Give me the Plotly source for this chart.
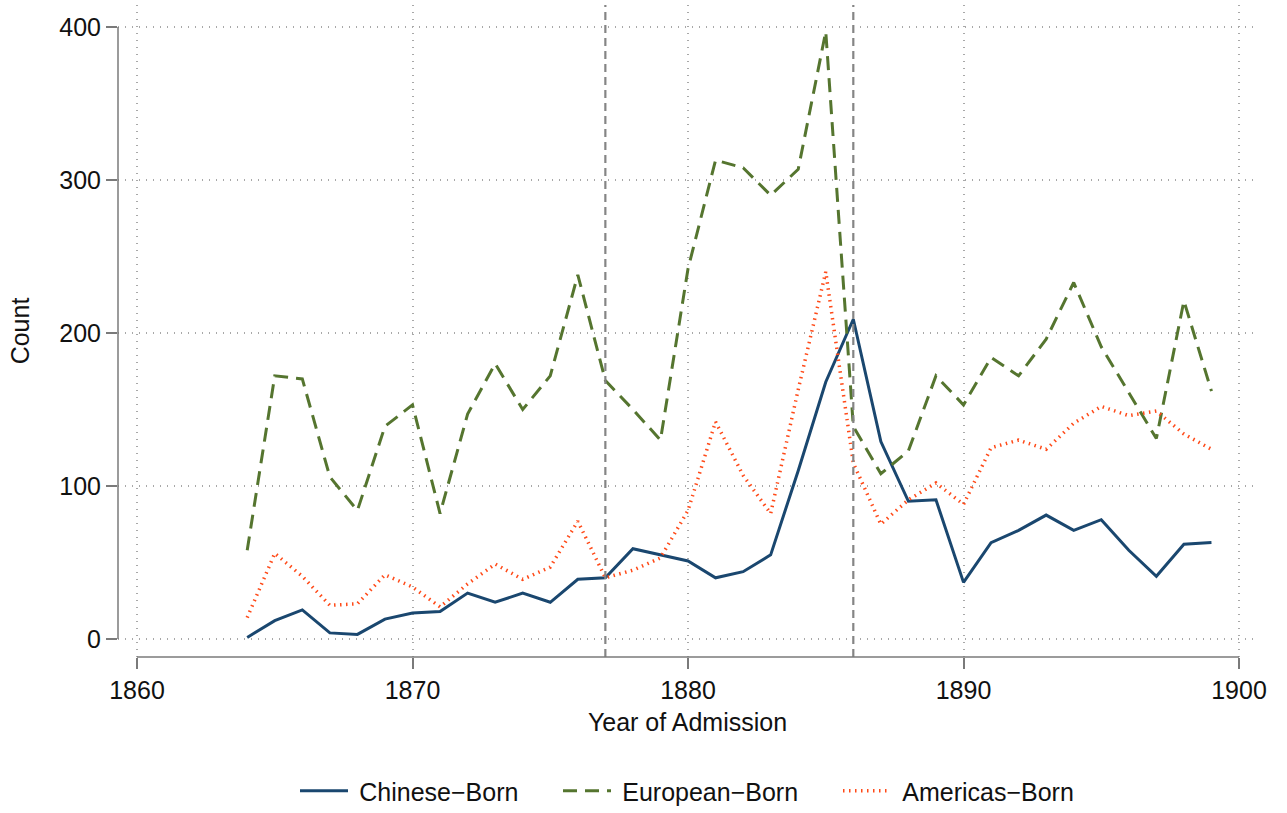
import plotly.graph_objects as go

# Admissions per year by birthplace
years = list(range(1864, 1900))
chinese_born = [1, 12, 19, 4, 3, 13, 17, 18, 30, 24, 30, 24, 39, 40, 59, 55, 51, 40,
                44, 55, 110, 168, 209, 129, 90, 91, 37, 63, 71, 81, 71, 78, 58, 41, 62, 63]
european_born = [58, 172, 170, 106, 84, 139, 153, 82, 147, 180, 150, 172, 238, 169, 150, 130, 242, 313,
                 308, 290, 307, 397, 139, 108, 123, 172, 153, 184, 172, 196, 233, 191, 161, 131, 221, 162]
americas_born = [14, 56, 41, 22, 23, 42, 34, 21, 36, 49, 39, 47, 77, 40, 45, 53, 84, 142,
                 107, 82, 163, 240, 115, 75, 91, 102, 88, 125, 130, 124, 141, 152, 146, 149, 134, 124]

# Reference years marked with vertical lines
event_years = [1877, 1886]

x_ticks = [1860, 1870, 1880, 1890, 1900]
y_ticks = [0, 100, 200, 300, 400]

FONT = "Liberation Sans, Arial, Helvetica, sans-serif"
AXIS_GRAY = "#7a7a7a"
GRID_GRAY = "#a8a8a8"
FS = 25
W, H = 1287, 813

# Legend key left edges (px) for the three series
legend_left = [295, 558, 838]
SP = "\u2005"

fig = go.Figure()
fig.add_trace(go.Scatter(x=years, y=chinese_born, mode="lines", name=SP + "Chinese\u2212Born",
                         line=dict(color="#1a476f", width=3), legend="legend"))
fig.add_trace(go.Scatter(x=years, y=european_born, mode="lines", name=SP + "European\u2212Born",
                         line=dict(color="#55752f", width=3, dash="14px,8px"), legend="legend2"))
fig.add_trace(go.Scatter(x=years, y=americas_born, mode="lines", name=SP + "Americas\u2212Born",
                         line=dict(color="#ff4a18", width=3.5, dash="1.5px,4.5px"), legend="legend3"))

for yr in event_years:
    fig.add_shape(type="line", xref="x", yref="paper", x0=yr, x1=yr, y0=0, y1=1,
                  line=dict(color="#858585", width=2.2, dash="8px,5px"), layer="above")

# Axis lines spanning only the tick range
fig.add_shape(type="line", xref="paper", yref="y", x0=0, x1=0, y0=y_ticks[0], y1=y_ticks[-1],
              line=dict(color=AXIS_GRAY, width=1.5))
fig.add_shape(type="line", xref="x", yref="paper", x0=x_ticks[0], x1=x_ticks[-1], y0=0, y1=0,
              line=dict(color=AXIS_GRAY, width=1.5))


def legend_box(px):
    return dict(orientation="h", x=px / W, xanchor="left", xref="container",
                y=1 - 791 / H, yanchor="middle", yref="container",
                font=dict(size=FS), itemwidth=48, bgcolor="rgba(0,0,0,0)",
                borderwidth=0)


fig.update_layout(
    width=W, height=H,
    margin=dict(l=118, r=30, t=5, b=156),
    paper_bgcolor="white", plot_bgcolor="white",
    font=dict(family=FONT, size=FS, color="#111111"),
    showlegend=True,
    legend=legend_box(legend_left[0]),
    legend2=legend_box(legend_left[1]),
    legend3=legend_box(legend_left[2]),
    xaxis=dict(range=[1859.31, 1900.653], tickvals=x_ticks, ticks="outside", ticklen=11,
               tickcolor=AXIS_GRAY, tickwidth=1.5, showline=False, zeroline=False,
               tickfont=dict(size=FS),
               showgrid=True, gridcolor=GRID_GRAY, griddash="1px,6px", gridwidth=1.5,
               title=dict(text="Year of Admission", standoff=10, font=dict(size=FS))),
    yaxis=dict(range=[-11.76, 414.38], tickvals=y_ticks, ticks="outside", ticklen=11,
               tickcolor=AXIS_GRAY, tickwidth=1.5, showline=False, zeroline=False,
               tickfont=dict(size=FS),
               showgrid=True, gridcolor=GRID_GRAY, griddash="1px,6px", gridwidth=1.5,
               title=dict(text="Count", standoff=22, font=dict(size=FS))),
)

fig.write_html("out.html")
